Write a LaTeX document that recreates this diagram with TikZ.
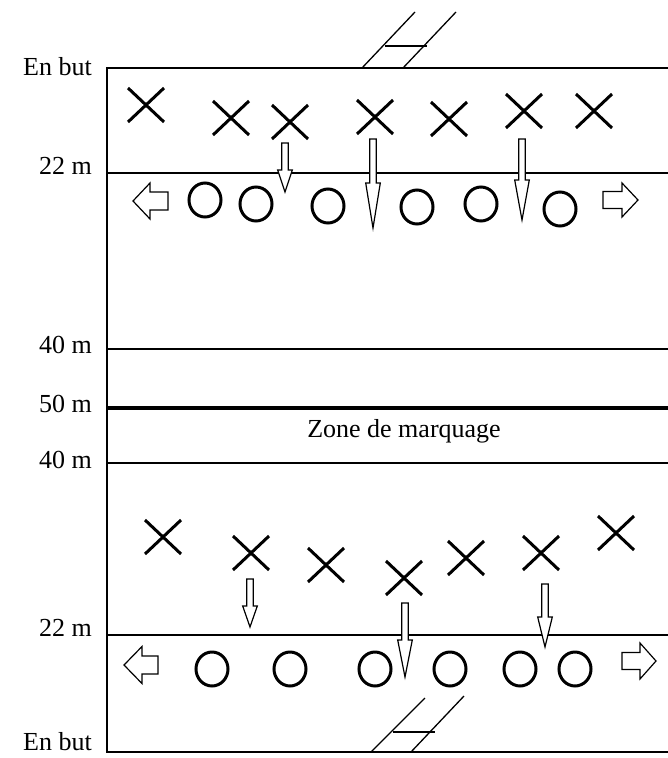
\documentclass[tikz,border=0pt]{standalone}
\usepackage{fontspec}
\setmainfont{Liberation Serif}
\usetikzlibrary{shapes.misc,shapes.geometric}
\newcommand{\dnarr}[4]{\draw[blockarr] ({#1-3.3},#2) -- ({#1+3.3},#2) -- ({#1+3.3},#3) -- ({#1+7.3},#3) -- (#1,#4) -- ({#1-7.3},#3) -- ({#1-3.3},#3) -- cycle;}
% side arrow: tip x, head base x, tail x, centre y, head half, shaft half
\newcommand{\sidearr}[6]{\draw[blockarr] (#1,#4) -- (#2,{#4-#5}) -- (#2,{#4-#6}) -- (#3,{#4-#6}) -- (#3,{#4+#6}) -- (#2,{#4+#6}) -- (#2,{#4+#5}) -- cycle;}
\begin{document}
\begin{tikzpicture}[x=1pt,y=-1pt,
  field/.style={line width=1.3pt},
  half/.style={line width=3.2pt},
  post/.style={line width=1.3pt},
  lbl/.style={font=\fontsize{26}{30}\selectfont, anchor=base east, inner sep=0pt},
  xmark/.style={cross out, draw, line width=3pt, minimum width=33pt, minimum height=31pt, inner sep=0pt},
  omark/.style={ellipse, draw, line width=3pt, minimum width=32pt, minimum height=34pt, inner sep=0pt},
  blockarr/.style={draw, fill=white, line width=1.2pt, line join=miter}]
\useasboundingbox (0,0) rectangle (668,758);

% labels
\node[lbl] (enbutA) at (92,75) {En but};
\node[lbl] (m22a) at (92,174) {22 m};
\node[lbl] (m40a) at (92,353) {40 m};
\node[lbl] (m50) at (92,412) {50 m};
\node[lbl] (m40b) at (92,468) {40 m};
\node[lbl] (m22b) at (92,636) {22 m};
\node[lbl] (enbutB) at (92,750) {En but};
\node[font=\fontsize{26}{30}\selectfont, anchor=base, inner sep=0pt] (zone) at (404,437) {Zone de marquage};

% field lines
\draw[field] (668,68) -- (107,68) -- (107,752) -- (668,752);
\draw[field] (107,173) -- (668,173);
\draw[field] (107,349) -- (668,349);
\draw[half] (107,408) -- (668,408);
\draw[field] (107,463) -- (668,463);
\draw[field] (107,635) -- (668,635);

% goal posts
\draw[post] (362,68) -- (415,12);
\draw[post] (403,68) -- (456,12);
\draw[post] (385,46) -- (427,46);
\draw[post] (371,752) -- (425,698);
\draw[post] (411,752) -- (464,696);
\draw[post] (393,732) -- (435,732);

% upper team
\node[xmark] (a1) at (146,105) {};
\node[xmark] (a2) at (231,118) {};
\node[xmark] (a3) at (290,122) {};
\node[xmark] (a4) at (375,117) {};
\node[xmark] (a5) at (449,119) {};
\node[xmark] (a6) at (524,111) {};
\node[xmark] (a7) at (594,111) {};

\node[omark] (o1) at (205,200) {};
\node[omark] (o2) at (256,204) {};
\node[omark] (o3) at (328,206) {};
\node[omark] (o4) at (417,207) {};
\node[omark] (o5) at (481,204) {};
\node[omark] (o6) at (560,209) {};

\dnarr{285}{143}{170}{192}
\dnarr{373}{139}{183}{228}
\dnarr{522}{139}{180}{220}
\sidearr{133}{150}{168}{201}{18}{9}
\sidearr{638}{622}{603}{200}{17}{8.5}

% lower team
\node[xmark] (b1) at (163,537) {};
\node[xmark] (b2) at (251,553) {};
\node[xmark] (b3) at (326,565) {};
\node[xmark] (b4) at (404,578) {};
\node[xmark] (b5) at (466,558) {};
\node[xmark] (b6) at (541,553) {};
\node[xmark] (b7) at (616,533) {};

\node[omark] (p1) at (212,669) {};
\node[omark] (p2) at (290,669) {};
\node[omark] (p3) at (375,669) {};
\node[omark] (p4) at (450,669) {};
\node[omark] (p5) at (520,669) {};
\node[omark] (p6) at (575,669) {};

\dnarr{250}{579}{606}{627}
\dnarr{405}{603}{640}{677}
\dnarr{545}{584}{617}{647}
\sidearr{124}{142}{158}{665}{18.5}{9}
\sidearr{656}{640}{622}{661}{18}{8.5}
\end{tikzpicture}
\end{document}
